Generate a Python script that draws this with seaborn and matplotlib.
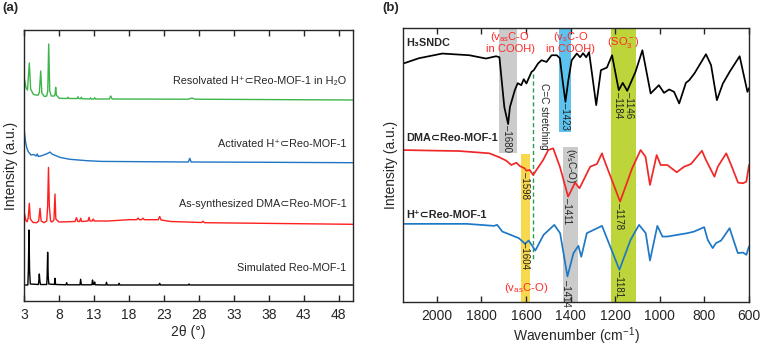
import matplotlib
matplotlib.use("Agg")
import matplotlib.pyplot as plt
import seaborn as sns
import pandas as pd

sns.set_style("ticks")
plt.rcParams['font.family'] = ['Liberation Sans', 'DejaVu Sans']
plt.rcParams['mathtext.fontset'] = 'custom'
plt.rcParams['mathtext.rm'] = 'Liberation Sans'
plt.rcParams['mathtext.it'] = 'Liberation Sans'
plt.rcParams['axes.linewidth'] = 1.0
plt.rcParams['lines.solid_joinstyle'] = 'round'

# ---------------- (a) PXRD data (2theta, stacked intensity a.u.) ----------------
sim_2t = [3.0, 3.55, 3.62, 3.71, 3.8, 3.9, 5.05, 5.12, 5.19, 5.27, 5.35, 6.25, 6.31, 6.38, 6.46,
          6.55, 7.35, 7.43, 7.52, 9.0, 9.1, 9.2, 11.0, 11.1, 11.2, 12.7, 12.8, 12.9, 13.0, 13.1,
          13.2, 14.7, 14.8, 14.9, 16.5, 16.6, 16.7, 22.3, 22.4, 22.5, 26.5, 26.6, 26.7, 50.0]
sim_int = [16, 16, 30, 71, 30, 17, 16.5, 20, 27, 20, 16.5, 16.5, 25, 48.7, 25,
           17, 16.5, 22.7, 16.5, 16.2, 18.3, 16.2, 16.2, 21.7, 16.2, 16.2, 21, 16.5, 16.5, 19,
           16.2, 16, 18.7, 16, 16, 17.7, 16, 16, 17.7, 16, 16, 17, 16, 16]

dma_2t = [3.0, 3.3, 3.45, 3.6, 3.76, 3.9, 4.3, 4.8, 5.1, 5.29, 5.45, 5.86, 6.25, 6.38, 6.5, 6.62,
          6.8, 7.0, 7.28, 7.43, 7.55, 8.0, 10.3, 10.5, 10.7, 10.95, 11.1, 11.25, 12.15, 12.3,
          12.45, 12.75, 12.9, 13.05, 15.0, 18.0, 19.1, 19.3, 19.5, 19.8, 20.0, 20.2, 22.2, 22.4,
          22.6, 24.0, 28.4, 28.6, 28.8, 50.0]
dma_int = [89.3, 80, 79.3, 83, 97.7, 82, 78.5, 78.3, 80, 92.7, 80, 78.3, 80, 95, 133.5, 95,
           80, 79, 81, 107, 82, 79, 79.5, 83.3, 79.5, 79.5, 82.7, 79.5, 80, 83.7,
           80, 80, 82, 80, 80, 81.3, 81.3, 83, 81.3, 81.3, 82.8, 81.3, 81.3, 84.5,
           81, 79.5, 78.5, 79.8, 78.3, 76.7]

act_2t = [3.0, 3.2, 3.4, 3.61, 4.0, 4.4, 4.75, 4.9, 5.05, 5.4, 6.0, 6.5, 6.71, 7.0, 7.5, 8.2,
          9.57, 12.0, 14.0, 20.0, 26.5, 26.7, 26.9, 35.0, 50.0]
act_int = [172.7, 160, 153, 149.3, 146, 146.5, 145, 147, 144.5, 145, 146.5, 148, 149, 147, 145.5,
           143.5, 141.7, 140.3, 139.6, 139.3, 139, 142.7, 139, 138.8, 138.3]

res_2t = [3.0, 3.3, 3.5, 3.76, 3.95, 4.3, 4.6, 5.05, 5.2, 5.39, 5.55, 5.9, 6.25, 6.4, 6.53, 6.68,
          6.9, 7.35, 7.45, 7.53, 7.62, 8.04, 9.2, 9.3, 9.4, 10.6, 10.7, 10.8, 11.1, 11.2, 11.3,
          12.4, 12.5, 12.6, 13.0, 13.1, 13.2, 15.2, 15.4, 15.6, 26.5, 27.0, 27.5, 50.0]
res_int = [224, 213, 211, 238, 212, 207, 206, 206, 209, 230, 208, 204.5, 205, 210, 257, 210,
           205, 205, 207, 213.7, 206, 202.7, 202.5, 203.8, 202.5, 202.5, 204.2, 202.5, 202.3,
           203.8, 202.3, 202, 203.2, 202, 202, 203.4, 202, 202, 205, 202, 201.8, 203, 201.8, 201]

xrd_labels = ["Resolvated H\u207a\u2282Reo-MOF-1 in H\u2082O", "Activated H\u207a\u2282Reo-MOF-1",
              "As-synthesized DMA\u2282Reo-MOF-1", "Simulated Reo-MOF-1"]
xrd_ticks = [3, 8, 13, 18, 23, 28, 33, 38, 43, 48]

# ---------------- (b) FTIR data (wavenumber, stacked transmittance a.u.) ----------------
lig_wn = [2150, 2080, 1975, 1854, 1779, 1734, 1719, 1712, 1697, 1680, 1672, 1650, 1637, 1621,
          1610, 1598, 1575, 1565, 1546, 1530, 1508, 1485, 1462, 1448, 1436, 1423, 1410, 1395,
          1372, 1357, 1344, 1330, 1317, 1300, 1285, 1264, 1237, 1214, 1184, 1166, 1146, 1109,
          1078, 1041, 1004, 981, 958, 936, 913, 883, 868, 845, 793, 770, 744, 717, 687, 642,
          607, 600]
lig_int = [238.7, 244, 248.7, 247, 243.7, 246, 245, 229, 195, 178, 195, 212, 219, 217,
           223, 218.7, 230.3, 232, 238.7, 242, 240.3, 247, 247, 244, 222, 200.3, 222, 242,
           248.7, 245, 249, 245, 250, 222, 197, 232, 234.7, 247, 212, 219.3, 211.3, 230.3,
           252, 208.7, 217, 209.3, 212.7, 210.3, 198.7, 219.3, 222, 228.7, 248, 237, 202,
           218.7, 230.3, 246, 210.3, 214]

dma_wn = [2150, 2035, 1899, 1764, 1719, 1688, 1666, 1643, 1628, 1606, 1598, 1583, 1568, 1523,
          1500, 1478, 1448, 1411, 1380, 1360, 1312, 1282, 1259, 1252, 1178, 1124, 1086, 1064,
          1044, 1014, 996, 966, 924, 891, 860, 811, 793, 755, 740, 702, 680, 649, 627, 612, 600]
dma_ir = [152, 151.5, 151, 148.7, 144.7, 141.3, 137, 139.3, 136, 133.7, 131.3, 132, 127, 142,
          152, 153.7, 135.3, 105.3, 119.3, 113.7, 135.3, 138, 148.7, 143.7, 100.3, 133.7, 152,
          145.3, 117, 147, 137, 137, 129.7, 135.3, 138, 151.3, 142, 125.3, 135.3, 148.7, 137,
          119.3, 118.7, 120.3, 137]

hmof_wn = [2150, 1864, 1744, 1729, 1706, 1669, 1632, 1604, 1588, 1558, 1521, 1473, 1447, 1414,
           1387, 1365, 1352, 1327, 1259, 1181, 1131, 1093, 1063, 1044, 1011, 988, 966, 921,
           876, 846, 801, 785, 763, 748, 725, 687, 665, 650, 627, 612, 600]
hmof_ir = [78, 78, 76, 77, 70.3, 67, 63.7, 58, 61.3, 51.3, 67, 77, 68.7, 25.3,
           48.7, 56, 45, 68.7, 76, 32, 62, 77, 68.7, 41.3, 76, 65.3, 65.3, 67,
           68.7, 70.3, 74.7, 62, 53.7, 58.7, 61.3, 73.7, 58.7, 48.7, 49.3, 47, 55.3]

ir_names = ["H\u2083SNDC", "DMA\u2282Reo-MOF-1", "H\u207a\u2282Reo-MOF-1"]
ir_ticks = [2000, 1800, 1600, 1400, 1200, 1000, 800, 600]
peak_labels = ["1680", "1423", "1184", "1146", "1598", "1411", "1178", "1604", "1414", "1181"]

# ---------------- figure ----------------
W, H = 762, 348
fig = plt.figure(figsize=(W / 100, H / 100), dpi=100)

def box(l, t, r, b):
    return [l / W, 1 - b / H, (r - l) / W, (b - t) / H]

axa = fig.add_axes(box(24, 30, 352.7, 301))
axb = fig.add_axes(box(403.3, 28, 749, 301.7))

# ---- panel (a)
series_a = [(res_2t, res_int, "#3cb54a"), (act_2t, act_int, "#1f74c4"),
            (dma_2t, dma_int, "#ff1f1f"), (sim_2t, sim_int, "black")]
for xs, ys, c in series_a:
    df = pd.DataFrame({"x": xs, "y": ys})
    sns.lineplot(data=df, x="x", y="y", ax=axa, color=c, lw=1.0, sort=False, estimator=None)

axa.set_xlim(3, 50)
axa.set_ylim(0, 271)
axa.set_xticks(xrd_ticks)
axa.set_yticks([])
axa.tick_params(axis="x", direction="in", top=True, length=4, width=1, labelsize=10, pad=5)
axa.set_xlabel("2\u03b8 (\u00b0)", fontsize=10, labelpad=2)
axa.set_ylabel("Intensity (a.u.)", fontsize=10, labelpad=4)
for lab, yy in zip(xrd_labels, [220, 157, 97, 33.3]):
    axa.text(49.1, yy, lab, ha="right", va="center", fontsize=7.8)

# ---- panel (b)
axb.set_xlim(2150, 600)
axb.set_ylim(0, 274.3)
ymax = 274.3
axb.axvspan(1720, 1640, ymin=149 / ymax, ymax=1, color="#cbcbcb", lw=0, zorder=0)
axb.axvspan(1452, 1398, ymin=170.3 / ymax, ymax=1, color="#5cc3ee", lw=0, zorder=0)
axb.axvspan(1217, 1108, ymin=0, ymax=1, color="#bdd53a", lw=0, zorder=0)
axb.axvspan(1624, 1583, ymin=0, ymax=147.7 / ymax, color="#f8d84c", lw=0, zorder=0)
axb.axvspan(1435, 1368, ymin=0, ymax=155.3 / ymax, color="#cbcbcb", lw=0, zorder=0)
axb.plot([1568, 1568], [228.7, 40.3], ls=(0, (3, 2)), color="#22a050", lw=1.0, zorder=1)

series_b = [(lig_wn, lig_int, "black"), (dma_wn, dma_ir, "#f02828"), (hmof_wn, hmof_ir, "#1f78c6")]
for xs, ys, c in series_b:
    df = pd.DataFrame({"x": xs, "y": ys})
    sns.lineplot(data=df, x="x", y="y", ax=axb, color=c, lw=1.25, sort=False, estimator=None, zorder=2)

axb.set_xticks(ir_ticks)
axb.set_yticks([])
axb.tick_params(axis="x", direction="in", top=True, length=4, width=1, labelsize=10, pad=5)
axb.set_xlabel("Wavenumber (cm$^{-1}$)", fontsize=10, labelpad=2)
axb.set_ylabel("Intensity (a.u.)", fontsize=10, labelpad=4)

for lab, yy in zip(ir_names, [259, 163.7, 87]):
    axb.text(2138, yy, lab, ha="left", va="center", fontsize=7.8, fontweight="bold")

red = "#ff2a2a"
axb.text(1671, 260, "(v$_{\\rm as}$C-O\nin COOH)", color=red, ha="center", va="center",
         fontsize=8, linespacing=1.0)
axb.text(1401, 260, "(v$_{\\rm s}$C-O\nin COOH)", color=red, ha="center", va="center",
         fontsize=8, linespacing=1.0)
axb.text(1165, 260, "(SO$_3^-$)", color=red, ha="center", va="center", fontsize=8)
axb.text(1600, 13.7, "(v$_{\\rm as}$C-O)", color=red, ha="center", va="center", fontsize=8.2)

pk_pos = [(1684, 177), (1423, 199), (1188, 210), (1139, 210), (1603, 130), (1416, 103.7),
          (1184, 98.7), (1605, 60.3), (1420, 22), (1184, 30.3)]
for lab, (xx, yy) in zip(peak_labels, pk_pos):
    axb.text(xx, yy, "\u2013" + lab, rotation=-90, ha="center", va="top", fontsize=7,
             color="#222222")
axb.text(1521, 219, "C=C stretching", rotation=-90, ha="center", va="top", fontsize=7.2,
         color="#222222")
axb.text(1400, 154, "(v$_{\\rm s}$C-O)", rotation=-90, ha="center", va="top", fontsize=7.2,
         color="#222222")

fig.text(2 / W, 1 - 8 / H, "(a)", fontsize=9.5, fontweight="bold", ha="left", va="center")
fig.text(382 / W, 1 - 8 / H, "(b)", fontsize=9.5, fontweight="bold", ha="left", va="center")

fig.savefig("out.png", dpi=100)
